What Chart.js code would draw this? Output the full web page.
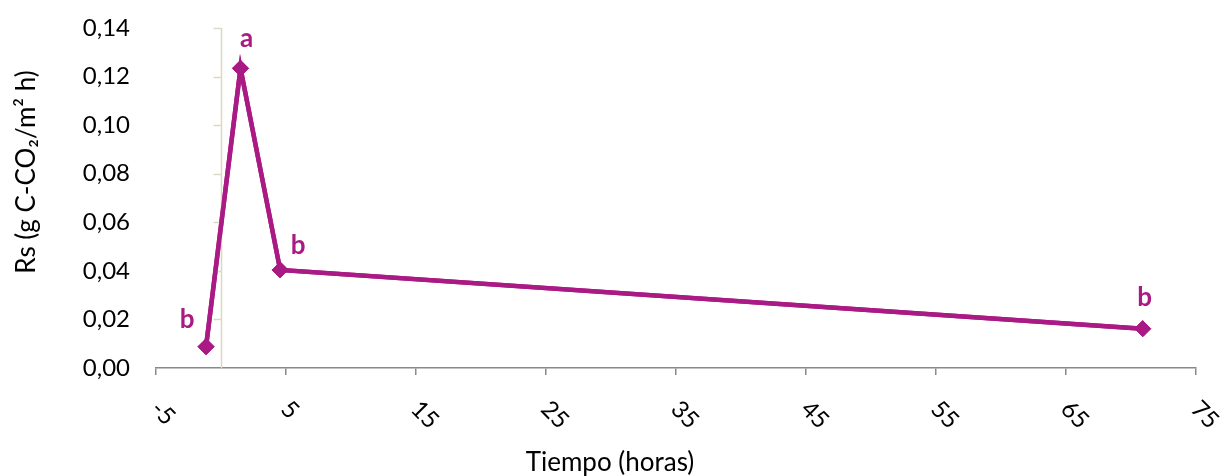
<!DOCTYPE html>
<html>
<head>
<meta charset="utf-8">
<script src="https://cdn.jsdelivr.net/npm/chart.js@4.4.1/dist/chart.umd.min.js"></script>
<style>
  html, body { margin: 0; padding: 0; background: #ffffff; }
  #wrap { width: 1221px; height: 476px; position: relative; }
</style>
</head>
<body>
<div id="wrap"><canvas id="c"></canvas></div>
<script>
// ---- data ----
const timeHours = [-1.15, 1.5, 4.55, 70.9];
const rsValues = [0.0088, 0.1234, 0.0404, 0.0162];
const pointLetters = ['b', 'a', 'b', 'b'];
const xTickValues = [-5, 5, 15, 25, 35, 45, 55, 65, 75];
const yTickValues = [0, 0.02, 0.04, 0.06, 0.08, 0.10, 0.12, 0.14];
const xAxisTitle = 'Tiempo (horas)';
const yAxisTitle = 'Rs (g C-CO\u2082/m\u00B2 h)';

// ---- styles ----
const FONT = 'Lato, "Open Sans", sans-serif';
const SERIES_COLOR = '#AA1A84';
const AXIS_GRAY = '#888888';
const ZERO_LINE = '#DDD8C3';
const letterOffsets = [[-19, -27], [6, -30], [18, -24], [2, -31]];

const overlay = {
  id: 'overlay',
  afterDraw(chart) {
    const ctx = chart.ctx;
    const xs = chart.scales.x, ys = chart.scales.y;
    ctx.save();
    // vertical axis line at x = 0 with small ticks
    const x0 = Math.round(xs.getPixelForValue(0)) + 0.5;
    ctx.strokeStyle = ZERO_LINE;
    ctx.lineWidth = 1.5;
    ctx.beginPath();
    ctx.moveTo(x0, ys.getPixelForValue(yTickValues[yTickValues.length - 1]));
    ctx.lineTo(x0, ys.getPixelForValue(0));
    ctx.stroke();
    yTickValues.forEach(v => {
      if (v === 0) return;
      const y = Math.round(ys.getPixelForValue(v)) + 0.5;
      ctx.beginPath();
      ctx.moveTo(x0 - 8, y);
      ctx.lineTo(x0, y);
      ctx.stroke();
    });
    // redraw series on top of the zero line
    chart.getDatasetMeta(0).controller.draw();

    // rotated x tick labels (clockwise 45deg)
    ctx.fillStyle = '#000000';
    ctx.font = '24px ' + FONT;
    ctx.textAlign = 'left';
    ctx.textBaseline = 'middle';
    xTickValues.forEach(v => {
      const px = xs.getPixelForValue(v);
      ctx.save();
      ctx.translate(px - 1, 405);
      ctx.rotate(Math.PI / 4);
      ctx.fillText(String(v), 0, 0);
      ctx.restore();
    });

    // axis titles
    ctx.font = '26px ' + FONT;
    ctx.textAlign = 'center';
    ctx.textBaseline = 'middle';
    ctx.fillText(xAxisTitle, 610, 463);
    ctx.save();
    ctx.translate(27, 172);
    ctx.rotate(-Math.PI / 2);
    ctx.fillText(yAxisTitle, 0, 0);
    ctx.restore();

    // point letters
    ctx.fillStyle = SERIES_COLOR;
    ctx.font = 'bold 26px ' + FONT;
    const meta = chart.getDatasetMeta(0);
    meta.data.forEach((pt, i) => {
      const off = letterOffsets[i];
      ctx.fillText(pointLetters[i], pt.x + off[0], pt.y + off[1]);
    });
    ctx.restore();
  }
};

new Chart(document.getElementById('c'), {
  type: 'scatter',
  data: {
    datasets: [{
      data: timeHours.map((t, i) => ({ x: t, y: rsValues[i] })),
      showLine: true,
      borderColor: SERIES_COLOR,
      backgroundColor: SERIES_COLOR,
      borderWidth: 4.5,
      pointStyle: 'rectRot',
      pointRadius: 8,
      pointHoverRadius: 8,
      pointBorderWidth: 1,
      pointBackgroundColor: SERIES_COLOR,
      pointBorderColor: SERIES_COLOR,
      tension: 0
    }]
  },
  options: {
    responsive: true,
    maintainAspectRatio: false,
    animation: false,
    events: [],
    layout: { padding: { top: 28, right: 25, bottom: 0, left: 0 } },
    plugins: { legend: { display: false }, tooltip: { enabled: false } },
    scales: {
      x: {
        type: 'linear',
        min: -5,
        max: 75,
        afterBuildTicks: s => { s.ticks = xTickValues.map(v => ({ value: v })); },
        afterFit: s => { s.height = 108; s.paddingLeft = 0; s.paddingRight = 0; },
        border: { display: true, color: AXIS_GRAY, width: 1.5 },
        grid: { drawOnChartArea: false, drawTicks: true, tickLength: 7, color: AXIS_GRAY, lineWidth: 1.5 },
        ticks: { display: false }
      },
      y: {
        type: 'linear',
        min: 0,
        max: 0.14,
        afterBuildTicks: s => { s.ticks = yTickValues.map(v => ({ value: v })); },
        afterFit: s => { s.width = 156; s.paddingTop = 0; s.paddingBottom = 0; },
        border: { display: false },
        grid: { display: false, drawTicks: false },
        ticks: {
          padding: 26,
          color: '#000000',
          font: { family: FONT, size: 24 },
          callback: v => Number(v).toFixed(2).replace('.', ',')
        }
      }
    }
  },
  plugins: [overlay]
});
</script>
</body>
</html>
